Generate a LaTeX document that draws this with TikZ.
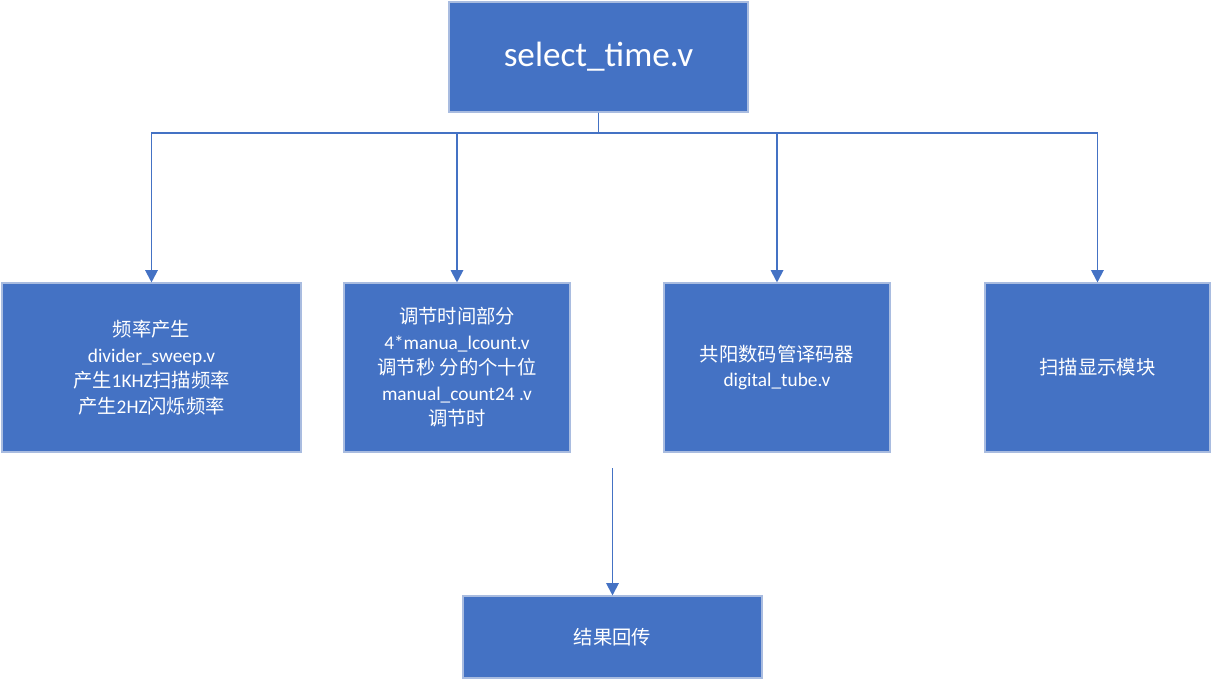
\documentclass[tikz,border=0pt]{standalone}
\usepackage{fontspec}
\setmainfont{Carlito}
\newfontfamily\cjk{Noto Sans CJK SC}
\usetikzlibrary{arrows.meta}

\definecolor{boxblue}{HTML}{4472C4}
\definecolor{boxedge}{HTML}{A9BCE0}

\tikzset{
  modbox/.style={draw=boxedge,line width=0.6pt,fill=boxblue,text=white,
    align=center,inner sep=2pt,font=\fontsize{11}{14.5}\selectfont},
  link/.style={boxblue,line width=1.1pt,-{Triangle[width=7pt,length=7pt]}}
}

\begin{document}
\begin{tikzpicture}[x=0.2mm,y=-0.2mm]
  \useasboundingbox (0,0) rectangle (1212,680);
  % top module
  \node[modbox,minimum width=5.98cm,minimum height=2.2cm,font=\fontsize{20}{24}\selectfont]
    (top) at (598.5,57) {select\_time.v};
  % sub modules
  \node[modbox,minimum width=5.98cm,minimum height=3.38cm] (divider) at (151.5,367.5)
    {{\cjk 频率产生}\\divider\_sweep.v\\{\cjk 产生}1KHZ{\cjk 扫描频率}\\{\cjk 产生}2HZ{\cjk 闪烁频率}};
  \node[modbox,minimum width=4.52cm,minimum height=3.38cm] (manual) at (457,367.5)
    {{\cjk 调节时间部分}\\4*manua\_lcount.v\\{\cjk 调节秒 分的个十位}\\manual\_count24 .v\\{\cjk 调节时}};
  \node[modbox,minimum width=4.52cm,minimum height=3.38cm] (tube) at (777,367.5)
    {{\cjk 共阳数码管译码器}\\digital\_tube.v};
  \node[modbox,minimum width=4.5cm,minimum height=3.38cm] (scan) at (1097.5,367.5)
    {{\cjk 扫描显示模块}};
  \node[modbox,minimum width=5.98cm,minimum height=1.64cm] (result) at (612.5,637)
    {{\cjk 结果回传}};
  % connectors
  \coordinate (bus) at (599,133);
  \foreach \m in {divider,manual,tube,scan}
    \draw[link] (top.south) |- (bus) -| (\m.north);
  \coordinate (back) at (612.5,468);
  \draw[link] (back) -- (result.north);
\end{tikzpicture}
\end{document}
